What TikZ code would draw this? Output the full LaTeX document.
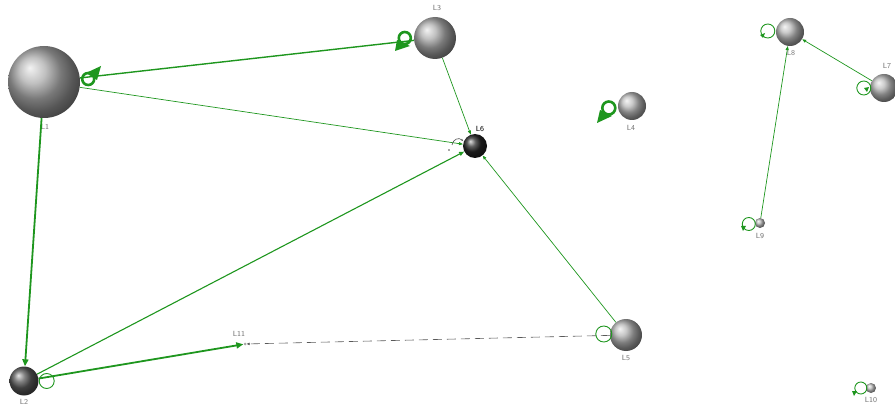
\documentclass[tikz,border=0pt]{standalone}
\usetikzlibrary{arrows.meta}
\definecolor{eg}{RGB}{30,150,30}
\definecolor{lab}{RGB}{115,115,115}
\begin{document}
\begin{tikzpicture}[x=1pt,y=-1pt,
  ball/.style={circle, shading=ball, inner sep=0pt, draw=none},
  lbl/.style={font=\sffamily\fontsize{7.5}{8}\selectfont, text=lab, inner sep=0pt},
  thin edge/.style={eg, line width=0.7pt, -{Triangle[length=4pt,width=3pt]}},
  mid edge/.style={eg, line width=1.1pt, -{Triangle[length=5pt,width=4pt]}},
  thick edge/.style={eg, line width=1.8pt, -{Triangle[length=7pt,width=6pt]}},
  ringthin/.style={eg, line width=0.9pt},
  ringthick/.style={eg, line width=2.6pt}]
\useasboundingbox (0,0) rectangle (895,409);
% nodes
\node[ball, ball color=gray!65, minimum size=72pt] (L1) at (44,82) {};
\node[ball, ball color=gray!65, minimum size=42pt] (L3) at (435,38) {};
\node[ball, ball color=black!85, minimum size=24pt] (L6) at (475,146) {};
\node[ball, ball color=gray!55, minimum size=28pt] (L4) at (632,106) {};
\node[ball, ball color=gray!55, minimum size=28pt] (L8) at (790,32) {};
\node[ball, ball color=gray!55, minimum size=28pt] (L7) at (884,88) {};
\node[ball, ball color=gray!55, minimum size=10pt] (L9) at (760,223) {};
\node[ball, ball color=gray!50, minimum size=10pt] (L10) at (871,388) {};
\node[ball, ball color=black!65, minimum size=29pt] (L2) at (24,381) {};
\node[ball, ball color=gray!60, minimum size=32pt] (L5) at (626,335) {};
\node[circle, fill=gray!70, inner sep=0pt, minimum size=3pt] (L11) at (245,344) {};
% labels
\node[lbl] (tL1) at (45,127) {L1};
\node[lbl] (tL3) at (437,8) {L3};
\node[lbl, text=black] (tL6) at (480,129) {L6};
\node[lbl] (tL4) at (631,128) {L4};
\node[lbl] (tL8) at (791,53) {L8};
\node[lbl] (tL7) at (887,66) {L7};
\node[lbl] (tL9) at (760,236) {L9};
\node[lbl] (tL10) at (871,400) {L10};
\node[lbl] (tL2) at (24,402) {L2};
\node[lbl] (tL11) at (239,334) {L11};
\node[lbl] (tL5) at (626,358) {L5};
% edges
\draw[thick edge] (L1) -- (L2);
\draw[eg, line width=1.4pt] (L1) -- (L3);
\draw[thin edge] (L1) -- (L6);
\draw[thin edge] (L3) -- (L6);
\draw[mid edge] (L2) -- (L6);
\draw[thin edge] (L5) -- (L6);
\draw[thick edge] (L2) -- (L11);
\draw[gray!70!black, line width=0.6pt, dash pattern=on 9pt off 5pt, -{Triangle[length=3pt,width=2.5pt]}] (L5) -- (L11);
\draw[thin edge] (L9) -- (L8);
\draw[thin edge] (L7) -- (L8);
% self loops
\draw[ringthick] ([xshift=8pt,yshift=3pt]L1.east) circle (6pt);
\fill[eg] (86,73) -- (101,66) -- (97,80) -- cycle;
\draw[ringthick] ([xshift=-9pt]L3.west) circle (6pt);
\fill[eg] (395,51) -- (397,40) -- (410,46) -- cycle;
\draw[ringthick] ([xshift=-9pt,yshift=-2pt]L4.west) circle (6.5pt);
\fill[eg] (597,123) -- (600,110) -- (612,116) -- cycle;
\draw[ringthin] ([xshift=8pt]L2.east) circle (7.5pt);
\draw[ringthin] ([xshift=-6pt,yshift=1pt]L5.west) circle (8pt);
\draw[ringthin] ([xshift=-8pt,yshift=1pt]L8.west) circle (7pt);
\fill[eg] (760,35) -- (765,33) -- (763,38) -- cycle;
\draw[ringthin] ([xshift=-6pt]L7.west) circle (7pt);
\fill[eg] (864,88) -- (869,87) -- (867,92) -- cycle;
\draw[ringthin] ([xshift=-6pt,yshift=-1pt]L9.west) circle (6.5pt);
\fill[eg] (741,226) -- (746,226) -- (743,231) -- cycle;
\draw[ringthin] ([xshift=-5pt]L10.west) circle (6pt);
\fill[eg] (852,391) -- (857,391) -- (854,396) -- cycle;
\draw[gray!60!black, line width=0.6pt, -{Stealth[length=2.5pt]}] (452,145) .. controls (453,139) and (459,137) .. (463,141);
\fill[gray!60!black] (449,150) circle (0.9pt);
\end{tikzpicture}
\end{document}
